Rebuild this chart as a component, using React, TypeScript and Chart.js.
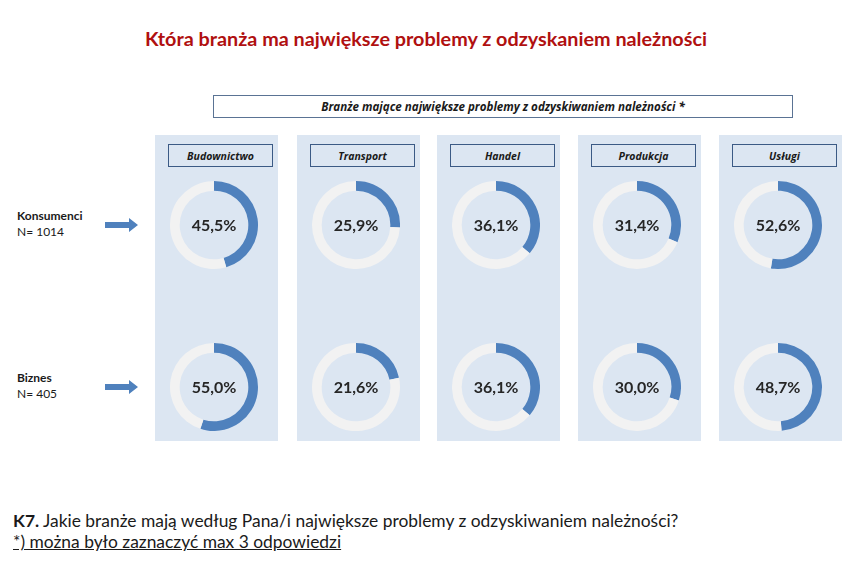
import React, { useEffect, useRef } from "react";
import { Chart, registerables } from "chart.js";

Chart.register(...registerables);

const title = "Która branża ma największe problemy z odzyskaniem należności";
const subtitle = "Branże mające największe problemy z odzyskiwaniem należności *";
const categories = ["Budownictwo", "Transport", "Handel", "Produkcja", "Usługi"];
const groups = ["Konsumenci", "Biznes"];
const groupN = ["N= 1014", "N= 405"];
const konsumenci = [45.5, 25.9, 36.1, 31.4, 52.6];
const biznes = [55.0, 21.6, 36.1, 30.0, 48.7];
const seriesValues = [konsumenci, biznes];
const footerBold = "K7.";
const footerText = " Jakie branże mają według Pana/i największe problemy z odzyskiwaniem należności?";
const footerNote = "*) można było zaznaczyć max 3 odpowiedzi";

const BLUE = "#4F81BD";
const RING = "#F2F2F2";
const PANEL = "#DCE6F2";
const FONT = "Lato, 'Open Sans', sans-serif";
const IFONT = "'Open Sans', Lato, sans-serif";

const centerText = {
  id: "centerText",
  afterDraw(chart: any) {
    const meta = chart.getDatasetMeta(0);
    const arc = meta.data[0];
    if (!arc) return;
    const { x, y } = arc;
    const v = chart.data.datasets[0].data[0] as number;
    const ctx = chart.ctx;
    ctx.save();
    ctx.font = `bold 16px ${FONT}`;
    ctx.fillStyle = "#262626";
    ctx.textAlign = "center";
    ctx.textBaseline = "middle";
    ctx.fillText(v.toFixed(1).replace(".", ",") + "%", x, y + 1);
    ctx.restore();
  },
};

function Donut({ value, left, top }: { value: number; left: number; top: number }) {
  const ref = useRef<HTMLCanvasElement>(null);
  useEffect(() => {
    const chart = new Chart(ref.current!, {
      type: "doughnut",
      data: {
        labels: ["tak", "reszta"],
        datasets: [
          {
            data: [value, 100 - value],
            backgroundColor: [BLUE, RING],
            borderWidth: 0,
          },
        ],
      },
      options: {
        responsive: false,
        animation: false,
        cutout: "78%",
        layout: { padding: 0 },
        plugins: { legend: { display: false }, tooltip: { enabled: false } },
      },
      plugins: [centerText],
    });
    return () => chart.destroy();
  }, [value]);
  return (
    <canvas
      ref={ref}
      width={88}
      height={88}
      style={{ position: "absolute", left, top, width: 88, height: 88 }}
    />
  );
}

function Arrow({ left, top }: { left: number; top: number }) {
  return (
    <svg style={{ position: "absolute", left, top }} width={34} height={16}>
      <polygon points="0,5 24,5 24,1 33,8 24,15 24,11 0,11" fill={BLUE} />
    </svg>
  );
}

export default function App() {
  const panelLefts = [155, 297, 437, 578, 719];
  const panelW = 123;
  const rowCenters = [225, 387];
  return (
    <div
      style={{
        position: "absolute",
        left: 0,
        top: 0,
        width: 852,
        height: 565,
        background: "#fff",
        fontFamily: FONT,
        overflow: "hidden",
      }}
    >
      <div
        style={{
          position: "absolute",
          left: 0,
          width: 852,
          top: 26,
          textAlign: "center",
          color: "#B01010",
          fontWeight: 700,
          fontSize: 19.8,
          whiteSpace: "nowrap",
        }}
      >
        {title}
      </div>
      <div
        style={{
          position: "absolute",
          left: 213,
          top: 95,
          width: 580,
          height: 23,
          border: "1px solid #5A7394",
          boxSizing: "border-box",
          display: "flex",
          alignItems: "center",
          justifyContent: "center",
          fontFamily: IFONT,
          fontStyle: "italic",
          fontWeight: 700,
          fontSize: 11.6,
          color: "#1a1a1a",
          whiteSpace: "nowrap",
        }}
      >
        {subtitle}
      </div>
      {panelLefts.map((pl, i) => (
        <div
          key={"p" + i}
          style={{
            position: "absolute",
            left: pl,
            top: 135,
            width: panelW,
            height: 306,
            background: PANEL,
          }}
        >
          <div
            style={{
              position: "absolute",
              left: 13,
              top: 9,
              width: 105,
              height: 23,
              border: "1px solid #3B5A85",
              boxSizing: "border-box",
              display: "flex",
              alignItems: "center",
              justifyContent: "center",
              fontFamily: IFONT,
              fontStyle: "italic",
              fontWeight: 700,
              fontSize: 10.5,
              color: "#1a1a1a",
            }}
          >
            {categories[i]}
          </div>
        </div>
      ))}
      {seriesValues.map((vals, r) =>
        vals.map((v, i) => (
          <Donut
            key={r + "-" + i}
            value={v}
            left={panelLefts[i] + panelW / 2 - 3 - 44}
            top={rowCenters[r] - 44}
          />
        ))
      )}
      {groups.map((g, r) => (
        <React.Fragment key={"g" + r}>
          <div
            style={{
              position: "absolute",
              left: 17,
              top: rowCenters[r] - 17,
              fontSize: 12,
              lineHeight: "16px",
              color: "#1a1a1a",
            }}
          >
            <div style={{ fontWeight: 700 }}>{g}</div>
            <div>{groupN[r]}</div>
          </div>
          <Arrow left={105} top={rowCenters[r] - 8} />
        </React.Fragment>
      ))}
      <div
        style={{
          position: "absolute",
          left: 13,
          top: 510,
          fontSize: 17.4,
          lineHeight: "21px",
          color: "#1a1a1a",
          whiteSpace: "nowrap",
        }}
      >
        <div>
          <b>{footerBold}</b>
          {footerText}
        </div>
        <div style={{ textDecoration: "underline" }}>{footerNote}</div>
      </div>
    </div>
  );
}
